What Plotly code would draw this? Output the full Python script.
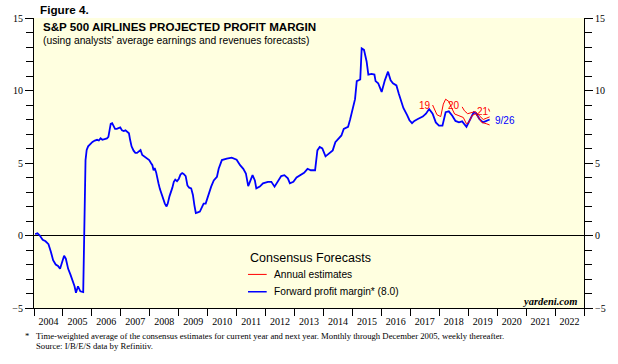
import plotly.graph_objects as go

# ---------------- data ----------------
years = list(range(2004, 2023))
year_labels = [str(y) for y in years]

# Forward profit margin (time-weighted), decimal years
fwd_x = [2004.04, 2004.12, 2004.20, 2004.30, 2004.40, 2004.50, 2004.58, 2004.66, 2004.75, 2004.83,
         2004.90, 2004.97, 2005.04, 2005.10, 2005.18, 2005.26, 2005.33, 2005.40, 2005.45, 2005.52,
         2005.60, 2005.70, 2005.78, 2005.82, 2005.87, 2005.93, 2006.02, 2006.10, 2006.18, 2006.24,
         2006.30, 2006.36, 2006.44, 2006.52, 2006.57, 2006.61, 2006.65, 2006.70, 2006.74, 2006.80,
         2006.86, 2006.92, 2006.98, 2007.04, 2007.10, 2007.16, 2007.22, 2007.28, 2007.32, 2007.37,
         2007.44, 2007.50, 2007.56, 2007.62, 2007.68, 2007.74, 2007.80, 2007.86, 2007.92, 2007.98,
         2008.04, 2008.09, 2008.13, 2008.17, 2008.22, 2008.26, 2008.30, 2008.35, 2008.41, 2008.46,
         2008.52, 2008.58, 2008.62, 2008.68, 2008.72, 2008.78, 2008.83, 2008.88, 2008.94, 2009.00,
         2009.06, 2009.12, 2009.17, 2009.24, 2009.30, 2009.36, 2009.43, 2009.49, 2009.54, 2009.59,
         2009.66, 2009.73, 2009.79, 2009.86, 2009.93, 2010.00, 2010.06, 2010.12, 2010.21, 2010.32,
         2010.38, 2010.49, 2010.66, 2010.83, 2011.00, 2011.12, 2011.23, 2011.32, 2011.40, 2011.48,
         2011.55, 2011.63, 2011.68, 2011.80, 2011.91, 2012.08, 2012.20, 2012.31, 2012.42, 2012.54,
         2012.65, 2012.77, 2012.84, 2012.96, 2013.07, 2013.22, 2013.33, 2013.45, 2013.56, 2013.71,
         2013.79, 2013.87, 2013.96, 2014.07, 2014.19, 2014.32, 2014.41, 2014.53, 2014.62, 2014.70,
         2014.85, 2014.92, 2015.01, 2015.09, 2015.15, 2015.21, 2015.27, 2015.32, 2015.40, 2015.49,
         2015.55, 2015.66, 2015.76, 2015.80, 2015.89, 2016.01, 2016.12, 2016.23, 2016.32, 2016.40,
         2016.52, 2016.60, 2016.66, 2016.76, 2016.89, 2016.97, 2017.06, 2017.14, 2017.26, 2017.43,
         2017.54, 2017.65, 2017.77, 2017.88, 2017.99, 2018.11, 2018.22, 2018.33, 2018.45, 2018.56,
         2018.68, 2018.79, 2018.94, 2019.05, 2019.19, 2019.28, 2019.39, 2019.51, 2019.62, 2019.74]
fwd_y = [0.10, 0.15, 0.00, -0.30, -0.40, -0.60, -1.10, -1.70, -2.00, -2.10,
         -2.30, -1.90, -1.40, -1.60, -2.30, -2.70, -3.10, -3.50, -3.95, -3.50,
         -3.85, -3.90, 5.20, 5.90, 6.15, 6.30, 6.45, 6.55, 6.60, 6.55,
         6.70, 6.60, 6.65, 6.70, 6.80, 7.40, 7.70, 7.75, 7.55, 7.35,
         7.35, 7.40, 7.45, 7.25, 7.20, 7.25, 7.15, 7.05, 6.60, 6.15,
         5.85, 5.70, 5.70, 5.80, 5.90, 5.55, 5.45, 5.35, 5.30, 5.20,
         5.00, 4.85, 4.50, 4.65, 4.35, 3.90, 3.60, 3.20, 2.80, 2.50,
         2.20, 2.00, 2.20, 2.70, 2.90, 3.30, 3.70, 3.85, 3.75, 3.90,
         4.20, 4.30, 4.25, 4.10, 3.45, 3.30, 3.25, 2.80, 2.10, 1.55,
         1.60, 1.65, 1.90, 2.20, 2.20, 2.60, 3.10, 3.37, 3.80, 4.05,
         4.60, 5.20, 5.30, 5.37, 5.23, 4.85, 4.60, 4.28, 3.40, 3.80,
         4.16, 3.80, 3.25, 3.37, 3.60, 3.70, 3.70, 3.37, 3.70, 4.10,
         4.16, 3.94, 3.60, 3.70, 4.00, 4.16, 4.32, 4.60, 4.50, 4.50,
         5.87, 6.10, 6.00, 5.46, 5.65, 5.87, 6.44, 6.67, 6.90, 7.35,
         7.50, 8.00, 8.72, 9.40, 10.65, 10.70, 10.76, 12.90, 12.80, 12.00,
         11.10, 11.15, 11.10, 10.65, 10.50, 9.90, 10.70, 11.30, 10.70, 10.50,
         10.35, 9.80, 9.40, 8.80, 8.30, 7.95, 7.75, 7.90, 8.03, 8.20,
         8.40, 8.72, 8.40, 7.80, 7.58, 7.58, 8.50, 8.56, 8.26, 7.90,
         7.80, 7.87, 7.50, 7.90, 8.50, 8.40, 8.03, 7.80, 7.90, 8.00]
fwd_last_date = "9/26"

# Annual consensus estimates (2019, 2020, 2021)
est19_x = [2017.77, 2017.85, 2017.92, 2018.05, 2018.14, 2018.22, 2018.33, 2018.42, 2018.53, 2018.68,
           2018.83, 2018.94, 2019.02, 2019.13, 2019.25, 2019.39, 2019.47, 2019.64, 2019.74]
est19_y = [9.00, 8.60, 8.33, 8.20, 9.06, 9.40, 9.24, 8.83, 8.38, 8.26,
           8.14, 7.70, 7.80, 8.26, 8.40, 8.03, 7.80, 7.70, 7.62]
est20_x = [2018.79, 2018.87, 2018.98, 2019.13, 2019.25, 2019.39, 2019.52, 2019.64, 2019.74]
est20_y = [8.87, 8.60, 8.40, 8.50, 8.55, 8.25, 8.00, 8.10, 8.18]
est21_x = [2019.70, 2019.74]
est21_y = [8.75, 8.55]
est_labels = ["19", "20", "21"]

# ---------------- figure ----------------
L, R, T, B = 29, 30, 17, 56
FW, FH = 618, 364
PW, PH = FW - L - R, FH - T - B


def px(xp):
    return (xp - L) / PW


def py(yp):
    return (FH - B - yp) / PH


RED = "#FF0000"
BLUE = "#0000FF"
SERIF = "Liberation Serif"
SANS = "Liberation Sans"

fig = go.Figure()
fig.add_trace(go.Scatter(x=fwd_x, y=fwd_y, mode="lines", line=dict(color=BLUE, width=1.8),
                         showlegend=False, hoverinfo="skip"))
for ex, ey in [(est19_x, est19_y), (est20_x, est20_y), (est21_x, est21_y)]:
    fig.add_trace(go.Scatter(x=ex, y=ey, mode="lines", line=dict(color=RED, width=1),
                             yaxis="y2", showlegend=False, hoverinfo="skip"))

yax_common = dict(
    range=[-5, 15], tickmode="array", tickvals=[-5, 0, 5, 10, 15],
    ticks="outside", ticklen=8, tickcolor="black", tickwidth=1,
    showline=True, linecolor="black", linewidth=1, showgrid=False,
    tickfont=dict(family=SERIF, size=10, color="black"),
    minor=dict(dtick=1, ticks="outside", ticklen=7, tickcolor="black", showgrid=False),
    fixedrange=True,
)

fig.update_layout(
    width=FW, height=FH,
    margin=dict(l=L, r=R, t=T, b=B, pad=0),
    paper_bgcolor="white", plot_bgcolor="#FFFFE0",
    showlegend=False,
    xaxis=dict(
        range=[2004, 2023], tickmode="array",
        tickvals=[y + 0.5 for y in years], ticktext=year_labels,
        ticks="", showline=True, linecolor="black", linewidth=1,
        showgrid=False, zeroline=False, ticklabelstandoff=4,
        tickfont=dict(family=SERIF, size=10, color="black"),
        minor=dict(tickmode="array", tickvals=list(range(2004, 2024)), ticks="outside",
                   ticklen=7, tickcolor="black", showgrid=False),
        fixedrange=True,
    ),
    yaxis=dict(side="left", zeroline=True, zerolinecolor="black", zerolinewidth=1, **yax_common),
    yaxis2=dict(side="right", overlaying="y", zeroline=False, **yax_common),
)

annotations = [
    dict(text="<b>Figure 4.</b>", x=px(33), y=py(8), font=dict(family=SANS, size=11.7)),
    dict(text="<b>S&P 500 AIRLINES PROJECTED PROFIT MARGIN</b>", x=px(36), y=py(25.5),
         font=dict(family=SANS, size=11.6)),
    dict(text="(using analysts' average earnings and revenues forecasts)", x=px(36), y=py(40),
         font=dict(family=SANS, size=10.3)),
    dict(text="Consensus Forecasts", x=px(246), y=py(258), font=dict(family=SANS, size=12.5)),
    dict(text="Annual estimates", x=px(271), y=py(274.5), font=dict(family=SANS, size=10.2)),
    dict(text=f"Forward profit margin* ({fwd_y[-1]:.1f})", x=px(271), y=py(291.5),
         font=dict(family=SANS, size=10.2)),
    dict(text="*", x=px(18), y=py(336), font=dict(family=SERIF, size=8.7)),
    dict(text="Time-weighted average of the consensus estimates for current year and next year. "
              "Monthly through December 2005, weekly thereafter.",
         x=px(29), y=py(336), font=dict(family=SERIF, size=8.7)),
    dict(text="Source: I/B/E/S data by Refinitiv.", x=px(29), y=py(346.5),
         font=dict(family=SERIF, size=8.7)),
]
anns = []
for a in annotations:
    a.update(xref="paper", yref="paper", xanchor="left", yanchor="middle", showarrow=False)
    a["font"].setdefault("color", "black")
    anns.append(a)

anns.append(dict(text="<b><i>yardeni.com</i></b>", x=px(583), y=py(301), xref="paper", yref="paper",
                 xanchor="right", yanchor="middle", showarrow=False,
                 font=dict(family=SERIF, size=10.5, color="black")))

# red year labels for the annual estimate lines
label_pos = [(2017.52, 8.96), (2018.51, 8.94), (2019.50, 8.53)]
for lab, (lx, ly) in zip(est_labels, label_pos):
    anns.append(dict(text=lab, x=lx, y=ly, xref="x", yref="y", showarrow=False,
                     xanchor="center", yanchor="middle",
                     font=dict(family=SANS, size=10, color=RED)))
anns.append(dict(text=fwd_last_date, x=fwd_x[-1] + 0.1, y=fwd_y[-1] - 0.08, xref="x", yref="y",
                 showarrow=False, xanchor="left", yanchor="middle",
                 font=dict(family=SANS, size=10, color=BLUE)))

fig.update_layout(annotations=anns)

fig.add_shape(type="line", xref="paper", yref="paper", x0=px(246.5), x1=px(265.5),
              y0=py(274.3), y1=py(274.3), line=dict(color=RED, width=1))
fig.add_shape(type="line", xref="paper", yref="paper", x0=px(246.5), x1=px(265.5),
              y0=py(291.7), y1=py(291.7), line=dict(color=BLUE, width=1.5))

fig.write_html("out.html", config={"displayModeBar": False},
               post_script="document.body.style.margin='0';")
